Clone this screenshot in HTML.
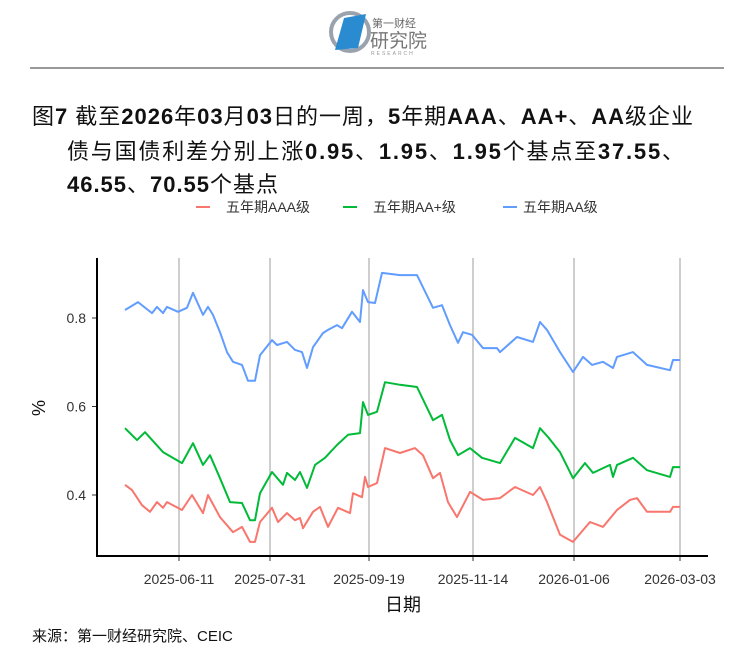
<!DOCTYPE html>
<html><head><meta charset="utf-8"><style>
body{margin:0;background:#fff;}
svg text{font-family:"Liberation Sans","Noto Sans CJK SC",sans-serif;}
.b{font-weight:bold;}
</style></head><body>
<svg id="chart" width="756" height="660" viewBox="0 0 756 660">
<g>
 <circle cx="350" cy="32" r="19" fill="none" stroke="#9aa3ad" stroke-width="4"/>
 <polygon points="344,18 366,14 358,48 335,50" fill="#2a8bd0"/>
 <text x="372" y="27" font-size="11" fill="#666">第一财经</text>
 <text x="370" y="47" font-size="19" fill="#777">研究院</text>
 <text x="371" y="55" font-size="5" fill="#999" letter-spacing="2">RESEARCH</text>
</g>
<line x1="30" y1="68" x2="724" y2="68" stroke="#333" stroke-width="1"/>
<g font-size="22" fill="#111">
 <text x="32" y="124" textLength="661" lengthAdjust="spacing">图<tspan class="b">7</tspan>  截至<tspan class="b">2026</tspan>年<tspan class="b">03</tspan>月<tspan class="b">03</tspan>日的一周，<tspan class="b">5</tspan>年期<tspan class="b">AAA</tspan>、<tspan class="b">AA+</tspan>、<tspan class="b">AA</tspan>级企业</text>
 <text x="67" y="159" textLength="617" lengthAdjust="spacing">债与国债利差分别上涨<tspan class="b">0.95</tspan>、<tspan class="b">1.95</tspan>、<tspan class="b">1.95</tspan>个基点至<tspan class="b">37.55</tspan>、</text>
 <text x="67" y="192" textLength="211" lengthAdjust="spacing"><tspan class="b">46.55</tspan>、<tspan class="b">70.55</tspan>个基点</text>
</g>
<g font-size="14" fill="#333">
 <g><line x1="196" y1="207" x2="210" y2="207" stroke="#F8766D" stroke-width="2"/><text x="226" y="212">五年期AAA级</text></g>
 <g><line x1="343" y1="207" x2="357" y2="207" stroke="#00BA38" stroke-width="2"/><text x="373" y="212">五年期AA+级</text></g>
 <g><line x1="503" y1="207" x2="517" y2="207" stroke="#619CFF" stroke-width="2"/><text x="523" y="212">五年期AA级</text></g>
</g>
<g id="plot"></g>
<text x="45" y="408" font-size="18" fill="#111" transform="rotate(-90 45 408)" text-anchor="middle">%</text>
<text x="403" y="611" font-size="18" fill="#111" text-anchor="middle">日期</text>
<text x="32" y="641" font-size="15" fill="#111">来源：第一财经研究院、CEIC</text>
</svg>
<script>
const tickLabels=["2025-06-11","2025-07-31","2025-09-19","2025-11-14","2026-01-06","2026-03-03"];
const tickT=[27,72.5,122,174,224.5,277.5];
const yTicks=[0.4,0.6,0.8];
const aaaT=[0,3.5,8.5,12.5,16,19,21,28.5,33.5,39,41.5,47.5,54,58.5,62.5,65,67.5,73.5,76.5,81,85,87.5,89,94,97.5,101.5,106.5,112.5,114,118.5,120,121.5,126,130,137.5,145,149,154,157.5,161.5,166,172.5,179,187.5,195,204,207.5,211,217.5,224,232.5,239,246,252.5,256,261,272.5,274,277.5];
const aaaV=[0.423,0.411,0.377,0.362,0.384,0.371,0.384,0.366,0.400,0.359,0.400,0.350,0.316,0.328,0.294,0.294,0.339,0.371,0.339,0.359,0.343,0.348,0.325,0.362,0.373,0.328,0.371,0.359,0.404,0.395,0.441,0.418,0.427,0.506,0.495,0.506,0.490,0.438,0.450,0.384,0.350,0.407,0.389,0.393,0.418,0.400,0.418,0.384,0.310,0.294,0.339,0.328,0.366,0.389,0.393,0.362,0.362,0.373,0.373];
const aapT=[0,6,10,19,28.5,34,39,42.5,47.5,52.5,58.5,62.5,65,67.5,73.5,79,81,85,87.5,91,95,100,106,111.5,117.5,119,121.5,126,130,137.5,146,154,158.5,162.5,166.5,172.5,178.5,187.5,195,204,207.5,211.5,217.5,224,230,234,242.5,244,246,254,261,272.5,274,277.5];
const aapV=[0.551,0.524,0.542,0.497,0.472,0.517,0.468,0.490,0.438,0.384,0.382,0.343,0.343,0.404,0.452,0.423,0.450,0.434,0.452,0.416,0.468,0.484,0.513,0.536,0.540,0.610,0.581,0.588,0.655,0.649,0.644,0.569,0.581,0.524,0.490,0.506,0.484,0.472,0.529,0.506,0.551,0.531,0.497,0.438,0.472,0.450,0.468,0.441,0.468,0.484,0.456,0.441,0.463,0.463];
const aaT=[0,6.5,13.5,16,19,21,26.5,31,34,39,41.5,44,47.5,51,54,58.5,61.5,65,67.5,73.5,76,81,85,88.5,91,94,99,101.5,106,108.5,113.5,117.5,119,121.5,125,128.5,137.5,146,154,158.5,162.5,166.5,169,173.5,179,186,187.5,196,204,207.5,211,217.5,224,229,233.5,239,244,246,254,261,272.5,274,277.5];
const aaV=[0.818,0.836,0.811,0.825,0.811,0.825,0.814,0.823,0.857,0.807,0.825,0.807,0.768,0.723,0.701,0.694,0.658,0.658,0.716,0.750,0.739,0.746,0.728,0.723,0.687,0.734,0.766,0.773,0.784,0.777,0.814,0.791,0.863,0.836,0.834,0.902,0.897,0.897,0.823,0.829,0.784,0.744,0.768,0.762,0.732,0.732,0.723,0.757,0.746,0.791,0.773,0.723,0.678,0.712,0.694,0.701,0.687,0.712,0.723,0.694,0.682,0.705,0.705];

const NS="http://www.w3.org/2000/svg";
const plot=document.getElementById('plot');
const X0=97,X1=708,Y0=258,Y1=556;
function xs(t){return 125+t*2;}
function ys(v){return 318+(0.8-v)*442.5;}
function mk(tag,attrs){const e=document.createElementNS(NS,tag);for(const k in attrs)e.setAttribute(k,attrs[k]);plot.appendChild(e);return e;}
tickT.forEach((t,i)=>{
 const g=mk('line',{x1:xs(t),x2:xs(t),y1:Y0,y2:Y1,stroke:'#bdbdbd','stroke-width':1.5});
 
 
 const tk=mk('line',{x1:xs(t),x2:xs(t),y1:Y1,y2:Y1+5,stroke:'#333','stroke-width':1});
 
 
 const tx=mk('text',{x:xs(t),y:584,'font-size':14,fill:'#333','text-anchor':'middle'});
 tx.textContent=tickLabels[i];
 
 
});
yTicks.forEach(v=>{
 const tk=mk('line',{x1:X0-5,x2:X0,y1:ys(v),y2:ys(v),stroke:'#333','stroke-width':1});
 
 
 const tx=mk('text',{x:86,y:ys(v)+5,'font-size':14,fill:'#333','text-anchor':'end'});
 tx.textContent=v.toFixed(1);
 
 
});
function series(T,V,color,name){
 const d=T.map((t,i)=>(i?'L':'M')+xs(t).toFixed(1)+' '+ys(V[i]).toFixed(1)).join(' ');
 const p=mk('path',{d:d,fill:'none',stroke:color,'stroke-width':2,'stroke-linejoin':'round'});
 
 
}
series(aaT,aaV,'#619CFF','line-aa');
series(aapT,aapV,'#00BA38','line-aa-plus');
series(aaaT,aaaV,'#F8766D','line-aaa');
const ya=mk('line',{x1:X0,x2:X0,y1:Y0,y2:Y1+1,stroke:'#000','stroke-width':2});


const xa=mk('line',{x1:X0-1,x2:X1,y1:Y1,y2:Y1,stroke:'#000','stroke-width':2});


</script>
</body></html>
